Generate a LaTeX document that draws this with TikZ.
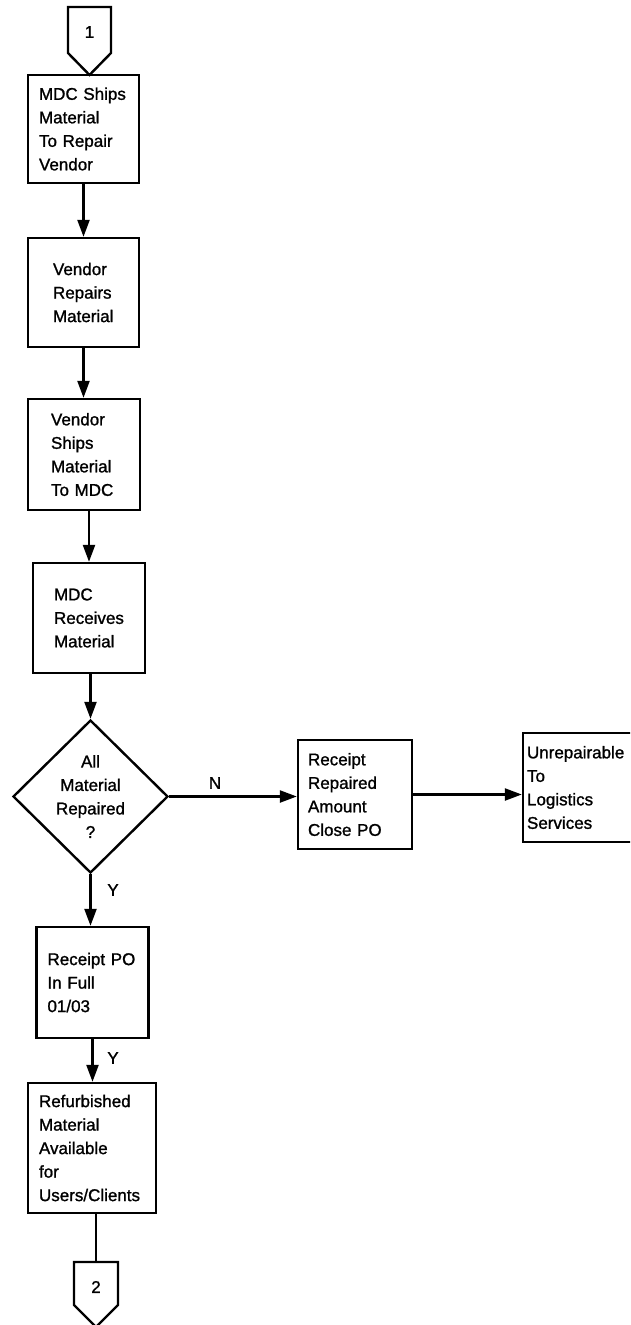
\documentclass[tikz,border=0pt]{standalone}
\usepackage{fontspec}
\setmainfont{Liberation Sans}[FakeBold=1.2]
\usetikzlibrary{arrows.meta,shapes.geometric}
\begin{document}
\begin{tikzpicture}[x=1pt,y=-1pt,
  every node/.style={font=\fontsize{17}{23.5}\selectfont},
  box/.style={draw,line width=2.4pt,inner sep=0pt,align=left},
  dec/.style={draw,diamond,line width=2.4pt,inner sep=0pt,align=center,aspect=1},
  arr/.style={line width=2.4pt,-{Triangle[length=17pt,width=12pt]}},
  conn/.style={draw,line width=2.4pt,line join=miter},
  lbl/.style={inner sep=0pt}]
\useasboundingbox (0,0) rectangle (630,1325);
\clip (0,0) rectangle (630,1325);

% off-page connector 1
\draw[conn] (68,7) -- (111,7) -- (111,53) -- (89.5,75) -- (68,53) -- cycle;
\node[lbl] (c1) at (89.5,32) {1};

\node[box,minimum width=111pt,minimum height=108pt,text width=89pt] (b1) at (83.5,129)
  {MDC~Ships\\Material\\To~Repair\\Vendor};
\node[box,minimum width=111pt,minimum height=109pt,text width=61pt] (b2) at (83.5,292.5)
  {Vendor\\Repairs\\Material};
\node[box,minimum width=112pt,minimum height=111pt,text width=66pt] (b3) at (84,454.5)
  {Vendor\\Ships\\Material\\To~MDC};
\node[box,minimum width=112pt,minimum height=110pt,text width=70pt] (b4) at (89,618)
  {MDC\\Receives\\Material};
\node[dec,minimum width=155pt,minimum height=153pt] (d) at (90.5,796.5)
  {All\\Material\\Repaired\\?};
\node[box,minimum width=114pt,minimum height=109pt,text width=94pt] (rr) at (355,794.5)
  {Receipt\\Repaired\\Amount\\Close~PO};
\node[box,minimum width=117pt,minimum height=109pt,text width=109pt] (un) at (581.5,787.5)
  {Unrepairable\\To\\Logistics\\Services};
\node[box,minimum width=112pt,minimum height=111pt,text width=90pt] (rp) at (92.5,982.5)
  {Receipt~PO\\In~Full\\01/03};
\node[box,minimum width=128pt,minimum height=130pt,text width=106pt] (rf) at (92,1148)
  {Refurbished\\Material\\Available\\for\\Users/Clients};

% off-page connector 2
\draw[conn] (74,1262) -- (118,1262) -- (118,1305) -- (96,1327) -- (74,1305) -- cycle;
\node[lbl] (c2) at (96,1287) {2};
\coordinate (c2top) at (96,1262);

% connectors
\draw[arr] (b1.south) -- (b2.north);
\draw[arr] (b2.south) -- (b2.south |- b3.north);
\draw[arr] (b4.north |- b3.south) -- (b4.north);
\draw[arr] (d.north |- b4.south) -- (d.north);
\draw[arr] (d.east) -- (d.east -| rr.west);
\draw[arr] (rr.east) -- (rr.east -| un.west);
\draw[arr] (d.south) -- (d.south |- rp.north);
\draw[arr] (rp.south) -- (rp.south |- rf.north);
\draw[line width=2.4pt] (c2top |- rf.south) -- (c2top);

% labels
\node[lbl] (ln) at (215,783) {N};
\node[lbl] (ly1) at (113,890) {Y};
\node[lbl] (ly2) at (113,1058) {Y};
\end{tikzpicture}
\end{document}
